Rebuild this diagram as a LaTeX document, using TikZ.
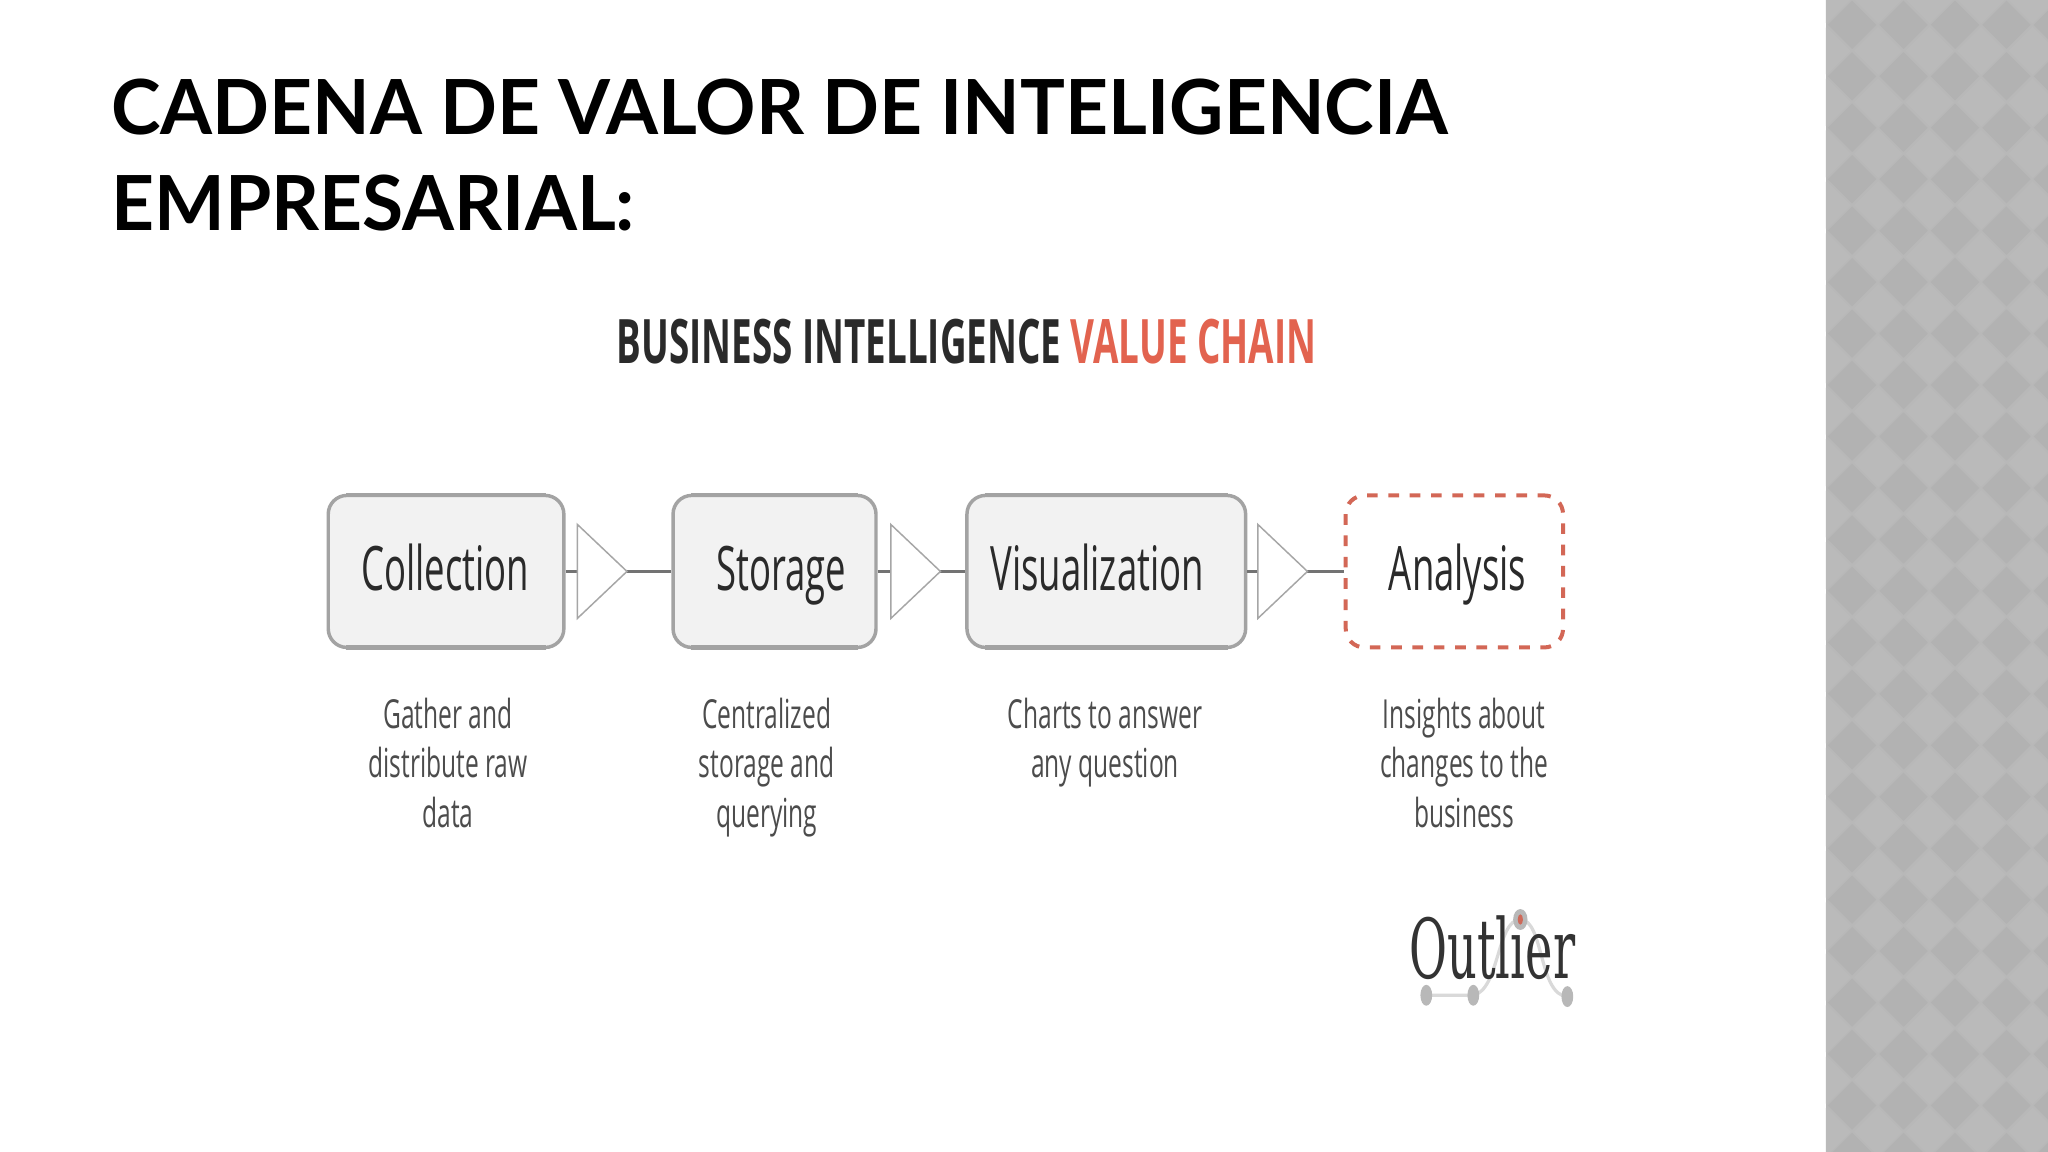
\documentclass[tikz,border=0pt]{standalone}
\usepackage{fontspec}
\usetikzlibrary{calc}
\setmainfont{Open Sans}
\newfontfamily\headf[FakeStretch=0.985]{Lato}
\newfontfamily\condf[FakeStretch=0.595]{Open Sans}
\newfontfamily\descf[FakeStretch=0.614]{Open Sans}
\newfontfamily\condb[FakeStretch=0.60]{Open Sans}
\newfontfamily\slab[FakeStretch=0.56]{DejaVu Serif}
\definecolor{inkc}{HTML}{2A2A2A}
\definecolor{redc}{HTML}{E2634F}
\definecolor{boxc}{HTML}{A3A3A3}
\definecolor{bandc}{HTML}{B8B8B8}
\definecolor{bandd}{HTML}{B2B2B2}
\definecolor{bandl}{HTML}{BABABA}
\tikzset{
  titletext/.style={anchor=base west,inner sep=0pt,font=\headf\bfseries\fontsize{57}{57}\selectfont,text=black},
  boxnode/.style={draw=boxc,line width=2.6pt,fill=black!5,rounded corners=14pt,minimum height=114pt,inner sep=0pt},
  boxedge/.style={draw=boxc,line width=3.6pt},
  dashnode/.style={draw=redc!85!gray,line width=3pt,dash pattern=on 8pt off 8pt,dash phase=3pt,rounded corners=14pt,minimum height=114pt,inner sep=0pt},
  boxtext/.style={anchor=base,inner sep=0pt,text=inkc,font=\condf\fontsize{46}{46}\selectfont},
  desctext/.style={inner sep=0pt,align=center,text=black!70,font=\descf\fontsize{30}{37.2}\selectfont},
  linkline/.style={draw=black!55,line width=1.8pt},
  tritip/.style={draw=black!35,line width=1.1pt,fill=white,line join=miter},
}
\begin{document}
\begin{tikzpicture}[x=0.97959pt,y=-0.97959pt]
\useasboundingbox (0,0) rectangle (1568,882);
\fill[white] (0,0) rectangle (1568,882);
% patterned band
\begin{scope}
\clip (1398,0) rectangle (1568,882);
\fill[bandc] (1398,0) rectangle (1568,882);
\foreach \i in {-1,...,5}{\foreach \j in {-1,...,23}{
  \fill[bandd] ({1418+39.4*\i-18.5},{19+39.4*\j}) -- ++(18.5,-18.5) -- ++(18.5,18.5) -- ++(-18.5,18.5) -- cycle;
  \fill[bandl] ({1438+39.4*\i-18.5},{39+39.4*\j}) -- ++(18.5,-18.5) -- ++(18.5,18.5) -- ++(-18.5,18.5) -- cycle;
}}
\end{scope}
% titles
\node[titletext] (t1) at (85,103) {CADENA DE VALOR DE INTELIGENCIA};
\node[titletext] (t2) at (85,176.5) {EMPRESARIAL:};
\node[anchor=base west,inner sep=0pt,font=\condb\bfseries\fontsize{46}{46}\selectfont,text=inkc] (sub) at (472,278) {BUSINESS INTELLIGENCE \textcolor{redc}{VALUE CHAIN}};
% boxes
\node[boxnode,minimum width=176.7pt] (col) at (341.5,437.5) {};
\node[boxnode,minimum width=152.2pt] (sto) at (593,437.5) {};
\node[boxnode,minimum width=209pt] (vis) at (847,437.5) {};
\node[dashnode,minimum width=163pt] (ana) at (1113.5,437.5) {};
\foreach \b in {col,sto,vis}{
  \draw[boxedge] ($(\b.north west)+(15,1)$) -- ($(\b.north east)+(-15,1)$);
  \draw[boxedge] ($(\b.south west)+(15,-1)$) -- ($(\b.south east)+(-15,-1)$);
}
\node[boxtext] (lcol) at (341,452) {Collection};
\node[boxtext] (lsto) at (598,452) {Storage};
\node[boxtext] (lvis) at (840,452) {Visualization};
\node[boxtext] (lana) at (1116,452) {Analysis};
% connectors
\draw[linkline] (col.east) -- (sto.west);
\draw[linkline] (sto.east) -- (vis.west);
\draw[linkline] (vis.east) -- (ana.west);
\draw[tritip] ($(col.east)+(9,-36)$) -- ($(col.east)+(47,0)$) -- ($(col.east)+(9,36)$) -- cycle;
\draw[tritip] ($(sto.east)+(10,-36)$) -- ($(sto.east)+(48,0)$) -- ($(sto.east)+(10,36)$) -- cycle;
\draw[tritip] ($(vis.east)+(8,-36)$) -- ($(vis.east)+(46,0)$) -- ($(vis.east)+(8,36)$) -- cycle;
% descriptions
\node[desctext] (dcol) at (343,588) {\strut Gather and\\distribute raw\\data\strut};
\node[desctext] (dsto) at (587,588) {\strut Centralized\\storage and\\querying\strut};
\node[desctext] (dvis) at (846,569) {\strut Charts to answer\\any question\strut};
\node[desctext] (dana) at (1121,588) {\strut Insights about\\changes to the\\business\strut};
% logo
\draw[black!15,line width=2.4pt] (1092,762) -- (1128,762) .. controls (1148,758) and (1146,704) .. (1164,704) .. controls (1182,704) and (1178,762) .. (1200,763);
\fill[black!28] (1092,762) ellipse (4.5 and 8) (1128,762) ellipse (4.5 and 8) (1200,763) ellipse (4.5 and 8);
\node[anchor=base west,inner sep=0pt,text=black!80,font=\slab\fontsize{62}{62}\selectfont] (logo) at (1079,749) {Outlier};
\fill[black!28] (1164,704) ellipse (5.5 and 8);
\fill[redc!80!gray] (1164,704) ellipse (2 and 4);
\end{tikzpicture}
\end{document}
